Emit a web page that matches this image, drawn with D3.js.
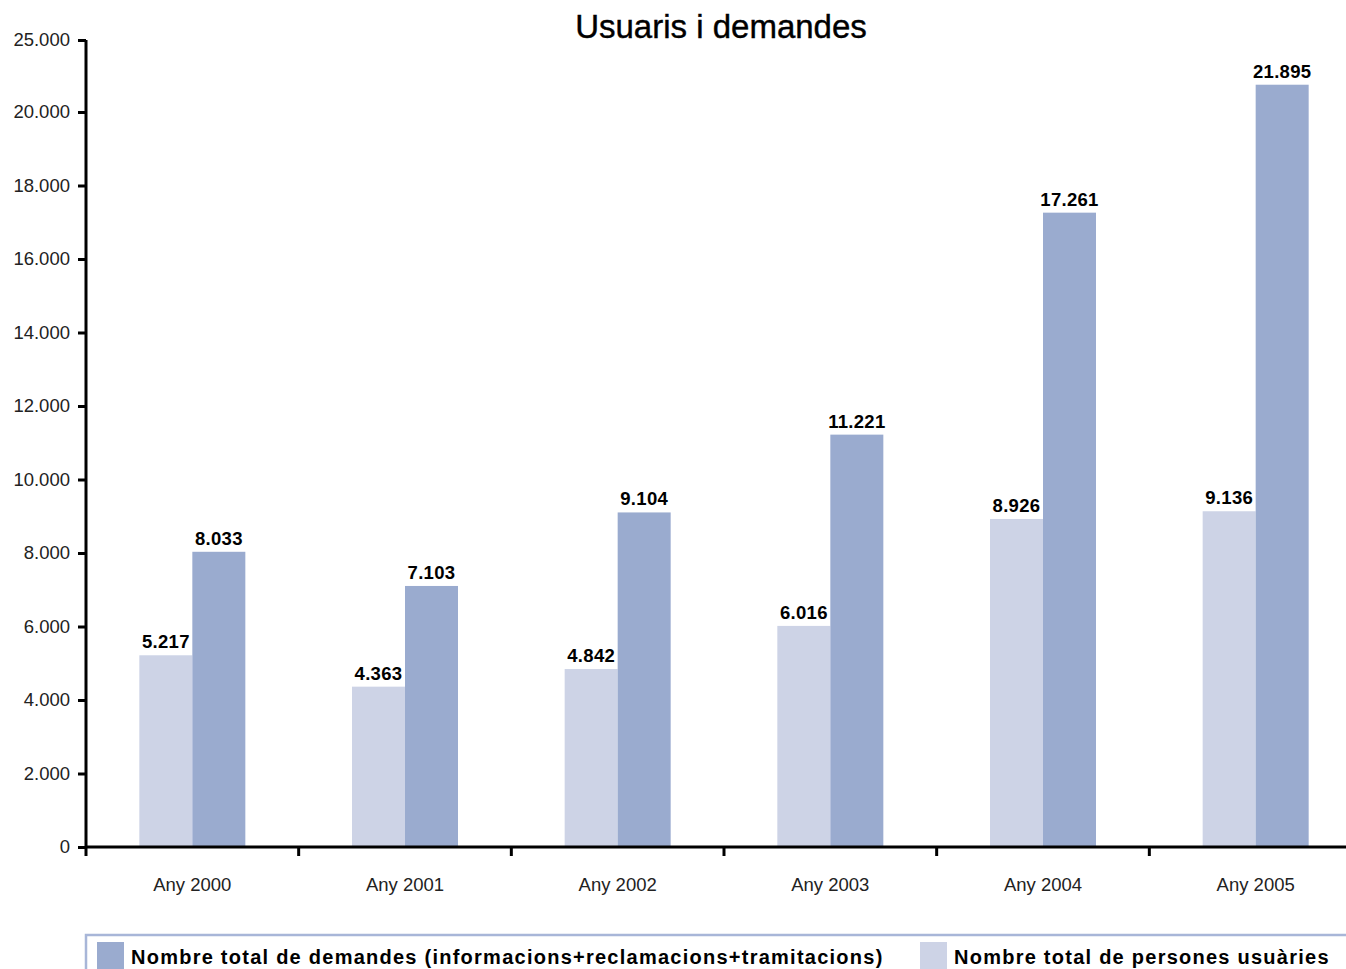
<!DOCTYPE html>
<html>
<head>
<meta charset="utf-8">
<script src="https://cdn.jsdelivr.net/npm/d3@7"></script>
<style>
    body { margin: 0; background: #fff; }
    svg { display: block; font-family: "Liberation Sans", Arial, sans-serif; }
</style>
</head>
<body>
<div id="chart"></div>
<script>
var years = ["Any 2000", "Any 2001", "Any 2002", "Any 2003", "Any 2004", "Any 2005"];
var usuaris = [5217, 4363, 4842, 6016, 8926, 9136];
var demandes = [8033, 7103, 9104, 11221, 17261, 21895];
var seriesNames = ["Nombre total de demandes (informacions+reclamacions+tramitacions)", "Nombre total de persones usuàries"];
var yTicks = [0, 2000, 4000, 6000, 8000, 10000, 12000, 14000, 16000, 18000, 20000, 25000];

var w = 1346,
    h = 969;

var fmt = function (v) {
    return d3.format(",")(v).replace(/,/g, ".");
};

var svg = d3.select("#chart")
    .append("svg")
    .attr("width", w)
    .attr("height", h);

// the axis is squeezed above 20.000 in the original
var y = d3.scaleLinear()
    .domain([0, 20000, 25000])
    .range([847, 112, 40]);

var x = d3.scaleBand()
    .domain(years)
    .range([86, 1362]);

var barW = 53;

svg.append("text")
    .attr("x", 721)
    .attr("y", 38)
    .attr("text-anchor", "middle")
    .attr("font-size", "33px")
    .attr("fill", "#000")
    .attr("stroke", "#000")
    .attr("stroke-width", 0.4)
    .text("Usuaris i demandes");

var groups = svg.selectAll(".grp")
    .data(years)
    .enter()
    .append("g")
    .attr("class", "grp");

groups.append("rect")
    .attr("x", function (d) { return x(d) + x.bandwidth() / 2 - barW; })
    .attr("y", function (d, i) { return y(usuaris[i]); })
    .attr("width", barW)
    .attr("height", function (d, i) { return y(0) - y(usuaris[i]); })
    .attr("fill", "#cdd3e6");

groups.append("rect")
    .attr("x", function (d) { return x(d) + x.bandwidth() / 2; })
    .attr("y", function (d, i) { return y(demandes[i]); })
    .attr("width", barW)
    .attr("height", function (d, i) { return y(0) - y(demandes[i]); })
    .attr("fill", "#9aabcf");

groups.append("text")
    .attr("x", function (d) { return x(d) + x.bandwidth() / 2 - barW / 2; })
    .attr("y", function (d, i) { return y(usuaris[i]) - 7; })
    .attr("text-anchor", "middle")
    .attr("font-size", "18.5px")
    .attr("font-weight", "bold")
    .attr("letter-spacing", "0.3px")
    .text(function (d, i) { return fmt(usuaris[i]); });

groups.append("text")
    .attr("x", function (d) { return x(d) + x.bandwidth() / 2 + barW / 2; })
    .attr("y", function (d, i) { return y(demandes[i]) - 7; })
    .attr("text-anchor", "middle")
    .attr("font-size", "18.5px")
    .attr("font-weight", "bold")
    .attr("letter-spacing", "0.3px")
    .text(function (d, i) { return fmt(demandes[i]); });

// y axis
var yAxis = svg.append("g")
    .attr("transform", "translate(86,0)")
    .call(d3.axisLeft(y).tickValues(yTicks).tickSize(8).tickPadding(8).tickFormat(fmt));

yAxis.select(".domain").attr("stroke-width", 3).attr("d", "M0," + y(25000) + "V" + y(0));
yAxis.selectAll(".tick line").attr("stroke-width", 3);
yAxis.selectAll(".tick text")
    .attr("font-size", "18.5px")
    .attr("font-family", "Liberation Sans, Arial, sans-serif")
    .attr("fill", "#222");

// x axis
var xAxis = svg.append("g")
    .attr("transform", "translate(0," + y(0) + ")")
    .call(d3.axisBottom(x).tickSize(0).tickPadding(31));

xAxis.select(".domain").attr("stroke-width", 3).attr("d", "M86,0H" + w);
xAxis.selectAll(".tick text")
    .attr("font-size", "18.5px")
    .attr("font-family", "Liberation Sans, Arial, sans-serif")
    .attr("fill", "#222");

xAxis.selectAll(".sep")
    .data(years)
    .enter()
    .append("line")
    .attr("class", "sep")
    .attr("x1", function (d) { return x(d); })
    .attr("x2", function (d) { return x(d); })
    .attr("y1", 0)
    .attr("y2", 9)
    .attr("stroke", "#000")
    .attr("stroke-width", 3);

// legend
var legend = svg.append("g");

legend.append("rect")
    .attr("x", 86)
    .attr("y", 935)
    .attr("width", w)
    .attr("height", 60)
    .attr("fill", "#fff")
    .attr("stroke", "#a8b6d8")
    .attr("stroke-width", 2.5);

var legX = [97, 920],
    legColors = ["#9aabcf", "#cdd3e6"];

legend.selectAll(".sw")
    .data(seriesNames)
    .enter()
    .append("rect")
    .attr("x", function (d, i) { return legX[i]; })
    .attr("y", 942)
    .attr("width", 27)
    .attr("height", 30)
    .attr("fill", function (d, i) { return legColors[i]; });

legend.selectAll(".lt")
    .data(seriesNames)
    .enter()
    .append("text")
    .attr("x", function (d, i) { return legX[i] + 34; })
    .attr("y", 964)
    .attr("font-size", "20px")
    .attr("font-weight", "bold")
    .attr("letter-spacing", "1.25px")
    .text(function (d) { return d; });
</script>
</body>
</html>
